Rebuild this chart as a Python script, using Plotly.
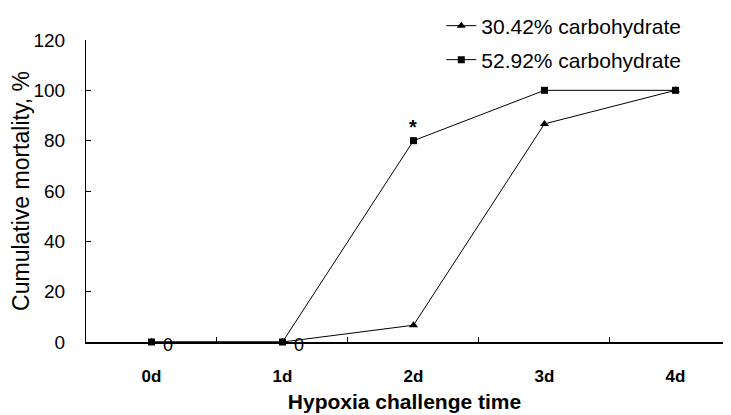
import plotly.graph_objects as go

categories = ["0d", "1d", "2d", "3d", "4d"]
carb_30 = [0, 0, 6.67, 86.67, 100]
carb_53 = [0, 0, 80, 100, 100]
name_30 = "30.42% carbohydrate"
name_53 = "52.92% carbohydrate"
y_ticks = [0, 20, 40, 60, 80, 100, 120]
zero_labels = ["0d", "1d"]
star_cat = "2d"
star_y = 80

FONT = "Arial, Liberation Sans, sans-serif"
W, H = 715, 407  # page body has 8px margin

fig = go.Figure()
fig.add_trace(go.Scatter(
    x=categories, y=carb_30, name=name_30, mode="lines+markers",
    line=dict(color="black", width=1),
    marker=dict(symbol="triangle-up", size=8, color="black"),
    cliponaxis=False, legend="legend", showlegend=True))
fig.add_trace(go.Scatter(
    x=categories, y=carb_53, name=name_53, mode="lines+markers",
    line=dict(color="black", width=1),
    marker=dict(symbol="square", size=7, color="black"),
    cliponaxis=False, legend="legend2", showlegend=True))

for c in zero_labels:
    fig.add_annotation(x=c, y=0, text="0", showarrow=False, xshift=17, yshift=-3,
                       font=dict(family=FONT, size=18, color="black"))
fig.add_annotation(x=star_cat, y=star_y, text="<b>*</b>", showarrow=False, yshift=14,
                   font=dict(family=FONT, size=20, color="black"))

leg_common = dict(font=dict(family=FONT, size=21, color="black"),
                  bgcolor="rgba(0,0,0,0)", borderwidth=0,
                  xref="container", yref="container",
                  xanchor="left", yanchor="middle", itemclick=False)
fig.update_layout(
    width=W, height=H,
    margin=dict(l=78, r=0, t=32, b=73, autoexpand=False),
    paper_bgcolor="white", plot_bgcolor="white",
    font=dict(family=FONT, color="black"),
    showlegend=True,
    legend=dict(x=0.606, y=1 - 18 / H, **leg_common),
    legend2=dict(x=0.606, y=1 - 52 / H, **leg_common),
    xaxis=dict(
        type="category", range=[-0.5, 4.363], automargin=False,
        showline=True, linecolor="black", linewidth=1.5,
        ticks="inside", ticklen=5, tickcolor="black", tickson="boundaries",
        showgrid=False, zeroline=False,
        tickfont=dict(family=FONT, size=17, color="black", weight="bold"),
        ticklabelstandoff=18,
        title=dict(text="<b>Hypoxia challenge time</b>", standoff=9,
                   font=dict(family=FONT, size=21, color="black")),
    ),
    yaxis=dict(
        range=[0, 120], tickvals=y_ticks, automargin=False,
        showline=True, linecolor="black", linewidth=1,
        ticks="inside", ticklen=5, tickcolor="black",
        showgrid=False, zeroline=False,
        tickfont=dict(family=FONT, size=19, color="black"),
        ticklabelstandoff=16,
        title=dict(text="Cumulative mortality, %", standoff=0,
                   font=dict(family=FONT, size=23, color="black")),
    ),
)

fig.write_html("out.html")
